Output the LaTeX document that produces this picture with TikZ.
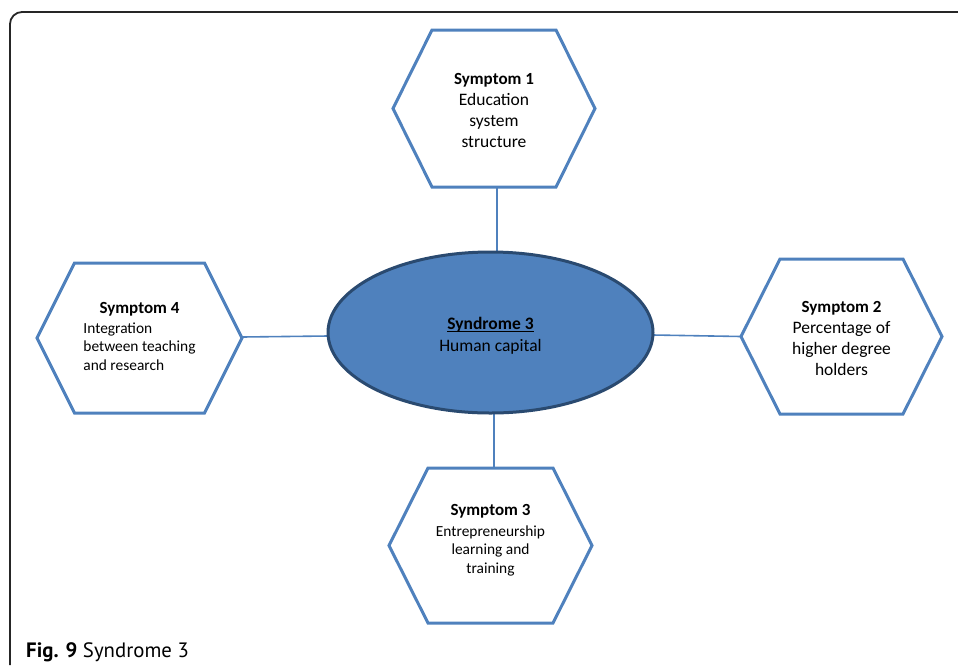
\documentclass[tikz,border=0pt]{standalone}
\usepackage{fontspec}
\setmainfont{Carlito}
\newfontfamily\capfont{PT Sans}
\usetikzlibrary{calc,shapes.geometric}
\definecolor{hexblue}{HTML}{4F81BD}
\definecolor{ellborder}{HTML}{2A4A70}
\newcommand\drawhex[2]{\draw[hexline] ($(#1.north west)+(#2,0)$) -- ($(#1.north east)+(-#2,0)$) -- (#1.east) -- ($(#1.south east)+(-#2,0)$) -- ($(#1.south west)+(#2,0)$) -- (#1.west) -- cycle;}
\newcommand\symtitle{\fontsize{17}{21}\selectfont\bfseries}
\newsavebox\myulbox
\newcommand\myuline[1]{\sbox\myulbox{#1}\rlap{\rule[-2.5pt]{\wd\myulbox}{1.2pt}}\usebox\myulbox}
\begin{document}
\begin{tikzpicture}[x=1pt,y=-1pt,
  hexbox/.style={rectangle, inner sep=0pt, outer sep=0pt},
  hexline/.style={draw=hexblue, line width=3pt, line join=miter},
  conn/.style={draw=hexblue, line width=1.6pt},
  bigtext/.style={align=center, inner sep=0pt, font=\fontsize{17.5}{21}\selectfont},
  smalltext/.style={align=center, inner sep=0pt, font=\fontsize{15.4}{18.5}\selectfont},
  framel/.style={draw=black!85, line width=1.8pt, rounded corners=12pt}]
\useasboundingbox (0,0) rectangle (958,665);
% frame
\draw[framel] (10,665) -- (10,12) -- (958,12);
% hexagon frames (nodes)
\node[hexbox, minimum width=202pt, minimum height=157pt] (h1) at (494,108.5) {};
\node[hexbox, minimum width=201pt, minimum height=155pt] (h2) at (841.5,336.5) {};
\node[hexbox, minimum width=203pt, minimum height=155pt] (h3) at (490.5,545.5) {};
\node[hexbox, minimum width=205pt, minimum height=150pt] (h4) at (139.5,338) {};
\node[ellipse, inner sep=0pt, outer sep=0pt, minimum width=325pt, minimum height=161pt] (syn) at (490.5,332.5) {};
% connectors
\draw[conn] ($(h1.south)+(3,0)$) -- ($(syn.north)+(6.5,0)$);
\draw[conn] ($(syn.south)+(3.5,0)$) -- ($(h3.north)+(3.5,0)$);
\draw[conn] ($(h4.east)+(0,-1)$) -- ($(syn.west)+(0,3.5)$);
\draw[conn] ($(syn.east)+(0,2.5)$) -- (h2.west);
% ellipse
\draw[draw=ellborder, line width=3pt, fill=hexblue] (syn.center) ellipse [x radius=162.5pt, y radius=80.5pt];
% hexagons
\drawhex{h1}{39}
\drawhex{h2}{39}
\drawhex{h3}{39}
\drawhex{h4}{37.5}
% texts
\node[bigtext] (t1) at (494,110) {{\symtitle Symptom 1}\\Education\\system\\structure};
\node[bigtext] (t2) at (841.5,338) {{\symtitle Symptom 2}\\Percentage of\\higher degree\\holders};
\node[smalltext] (t3) at (490.5,540) {{\symtitle Symptom 3}\\[2pt]Entrepreneurship\\learning and\\training};
\node[smalltext] (t4) at (139.5,339) {{\symtitle Symptom 4}\\[1.5pt]\begin{tabular}[t]{@{}l@{}}Integration\\between teaching\\and research\end{tabular}};
\node[align=center, inner sep=0pt, font=\fontsize{17.5}{22.5}\selectfont] (st) at (490.5,336) {\textbf{\myuline{Syndrome 3}}\\Human capital};
% caption
\node[anchor=base west, inner sep=0pt, font=\capfont\fontsize{20.8}{24}\selectfont] (cap) at (26,657.5) {\textbf{Fig. 9} Syndrome 3};
\end{tikzpicture}
\end{document}
